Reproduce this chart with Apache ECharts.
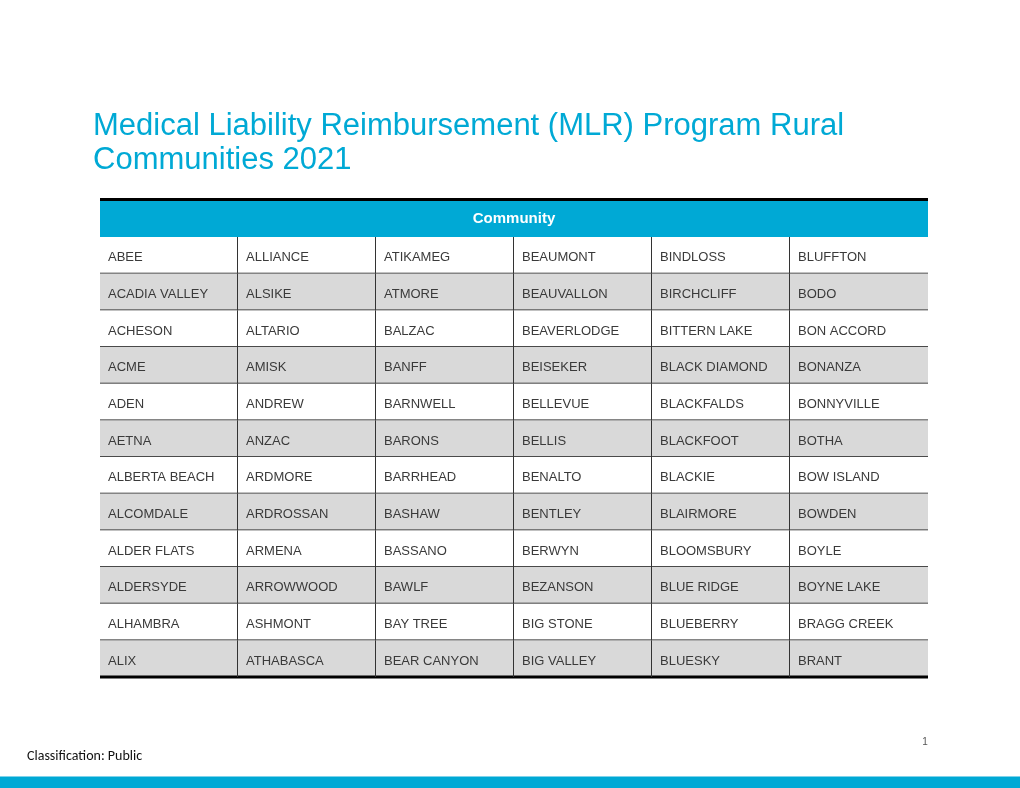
<!DOCTYPE html>
<html>
<head>
<meta charset="utf-8">
<script src="https://cdn.jsdelivr.net/npm/echarts@6/dist/echarts.min.js"></script>
<style>
  html, body { margin: 0; padding: 0; background: #fff; }
  #main { width: 1020px; height: 788px; }
</style>
</head>
<body>
<div id="main"></div>
<script>
// one array per table column, top row first
const colA = ['ABEE', 'ACADIA VALLEY', 'ACHESON', 'ACME', 'ADEN', 'AETNA', 'ALBERTA BEACH', 'ALCOMDALE', 'ALDER FLATS', 'ALDERSYDE', 'ALHAMBRA', 'ALIX']
const colB = ['ALLIANCE', 'ALSIKE', 'ALTARIO', 'AMISK', 'ANDREW', 'ANZAC', 'ARDMORE', 'ARDROSSAN', 'ARMENA', 'ARROWWOOD', 'ASHMONT', 'ATHABASCA']
const colC = ['ATIKAMEG', 'ATMORE', 'BALZAC', 'BANFF', 'BARNWELL', 'BARONS', 'BARRHEAD', 'BASHAW', 'BASSANO', 'BAWLF', 'BAY TREE', 'BEAR CANYON']
const colD = ['BEAUMONT', 'BEAUVALLON', 'BEAVERLODGE', 'BEISEKER', 'BELLEVUE', 'BELLIS', 'BENALTO', 'BENTLEY', 'BERWYN', 'BEZANSON', 'BIG STONE', 'BIG VALLEY']
const colE = ['BINDLOSS', 'BIRCHCLIFF', 'BITTERN LAKE', 'BLACK DIAMOND', 'BLACKFALDS', 'BLACKFOOT', 'BLACKIE', 'BLAIRMORE', 'BLOOMSBURY', 'BLUE RIDGE', 'BLUEBERRY', 'BLUESKY']
const colF = ['BLUFFTON', 'BODO', 'BON ACCORD', 'BONANZA', 'BONNYVILLE', 'BOTHA', 'BOW ISLAND', 'BOWDEN', 'BOYLE', 'BOYNE LAKE', 'BRAGG CREEK', 'BRANT']

const columns = [colA, colB, colC, colD, colE, colF]
const colIdx = columns.map((c, i) => i)
const rowIdx = colA.map((c, i) => i)

const cells = []
columns.forEach((col, ci) => {
  col.forEach((name, ri) => {
    cells.push([ci, ri, name])
  })
})

const blue = '#00a9d5'
const font = 'Liberation Sans, Arial, sans-serif'

const myChart = echarts.init(document.getElementById('main'))

const option = {
  animation: false,
  title: {
    text: 'Medical Liability Reimbursement (MLR) Program Rural\nCommunities 2021',
    left: 88,
    top: 104,
    textStyle: {
      fontFamily: font,
      fontSize: 31,
      fontWeight: 'normal',
      color: blue,
      lineHeight: 34
    }
  },
  grid: { left: 100, right: 92, top: 237, height: 440 },
  xAxis: { type: 'category', data: colIdx, show: false },
  yAxis: { type: 'category', data: rowIdx, inverse: true, show: false },
  graphic: [
    // header band
    { type: 'rect', shape: { x: 100, y: 198, width: 828, height: 3 }, style: { fill: '#000' } },
    { type: 'rect', shape: { x: 100, y: 201, width: 828, height: 36 }, style: { fill: blue } },
    {
      type: 'text', x: 514, y: 219,
      style: { text: 'Community', fill: '#fff', font: 'bold 15px ' + font, textAlign: 'center', textVerticalAlign: 'middle' }
    },
    // footer
    {
      type: 'text', x: 27, y: 756,
      style: { text: 'Classification: Public', fill: '#111', font: '14px Carlito, Lato, sans-serif', textVerticalAlign: 'middle' }
    },
    {
      type: 'text', x: 925, y: 742,
      style: { text: '1', fill: '#555', font: '10px ' + font, textAlign: 'center', textVerticalAlign: 'middle' }
    },
    { type: 'rect', shape: { x: 0, y: 776, width: 1020, height: 1 }, style: { fill: '#7fd2ea' } },
    { type: 'rect', shape: { x: 0, y: 777, width: 1020, height: 11 }, style: { fill: blue } }
  ],
  series: [
    {
      type: 'custom',
      data: cells,
      encode: { x: 0, y: 1 },
      renderItem: function (params, api) {
        const c = api.coord([api.value(0), api.value(1)])
        const s = api.size([1, 1])
        const col = api.value(0)
        const row = api.value(1)
        const x0 = c[0] - s[0] / 2
        const y0 = c[1] - s[1] / 2
        const x1 = x0 + s[0]
        const y1 = y0 + s[1]
        const last = row === rowIdx.length - 1
        const children = [
          {
            type: 'rect',
            shape: { x: x0, y: y0, width: s[0], height: s[1] },
            style: { fill: row % 2 === 1 ? '#d9d9d9' : '#fff' }
          },
          {
            type: 'text',
            x: x0 + 8,
            y: c[1] + 2.5,
            style: {
              text: cells[params.dataIndex][2],
              fill: '#3a3a3a',
              font: '13px ' + font,
              textVerticalAlign: 'middle'
            }
          },
          {
            type: 'line',
            z2: 10,
            shape: { x1: x0, y1: last ? y1 : y1 - 0.5, x2: x1, y2: last ? y1 : y1 - 0.5 },
            style: { stroke: last ? '#000' : '#4a4a4a', lineWidth: last ? 3 : 1 }
          }
        ]
        if (col < colIdx.length - 1) {
          children.push({
            type: 'line',
            z2: 11,
            shape: { x1: x1 - 0.5, y1: y0, x2: x1 - 0.5, y2: y1 },
            style: { stroke: '#333', lineWidth: 1 }
          })
        }
        return { type: 'group', children: children }
      }
    }
  ]
}

option && myChart.setOption(option)
</script>
</body>
</html>
